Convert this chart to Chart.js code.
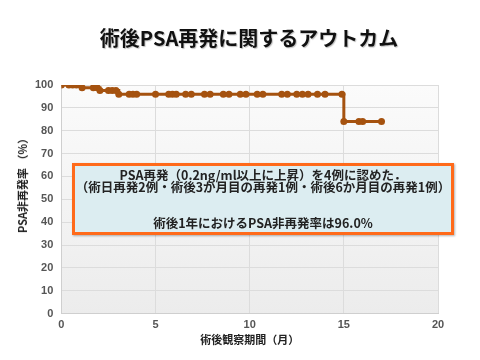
<!DOCTYPE html>
<html>
<head>
<meta charset="utf-8">
<script src="https://cdn.jsdelivr.net/npm/chart.js@4.4.1/dist/chart.umd.min.js"></script>
<style>
  body { margin: 0; background: #fff; }
  #wrap { position: relative; width: 480px; height: 360px; }
  #title {
    position: absolute; left: 9px; top: 23px; width: 480px; text-align: center;
    font-family: "Noto Sans CJK JP", sans-serif; font-weight: bold; font-size: 20px;
    color: #111; text-shadow: 1px 1px 1px rgba(0,0,0,0.25);
  }
  #ytitle {
    position: absolute; left: 22px; top: 183px; white-space: nowrap;
    transform: translate(-50%, -50%) rotate(-90deg);
    font-family: "Noto Sans CJK JP", sans-serif; font-weight: bold; font-size: 11px; color: #222;
  }
  #note {
    position: absolute; left: 72px; top: 163px; width: 376px; height: 66px;
    border: 3px solid #ff6a1a; background: #dcedf1;
    font-family: "Noto Sans CJK JP", sans-serif; font-weight: bold; font-size: 12.5px;
    color: #222; text-align: center;
    box-shadow: 1px 1px 2px rgba(0,0,0,0.3);
  }
  #note div { position: absolute; left: 0; width: 100%; line-height: 14px; white-space: nowrap; }
  canvas { position: absolute; left: 0; top: 0; }
</style>
</head>
<body>
<div id="wrap">
  <canvas id="chart" width="480" height="360"></canvas>
  <div id="title">術後PSA再発に関するアウトカム</div>
  <div id="ytitle">PSA非再発率 （%）</div>
  <div id="note">
    <div style="top:2px">PSA再発（0.2ng/ml以上に上昇）を4例に認めた．</div>
    <div style="top:14px">（術日再発2例・術後3か月目の再発1例・術後6か月目の再発1例）</div>
    <div style="top:50px">術後1年におけるPSA非再発率は96.0%</div>
  </div>
</div>
<script>
// DATA
const months = [0, 0.4, 0.6, 0.8, 1.0, 1.1, 1.7, 1.9, 2.05, 2.5, 2.7, 2.9, 3.05, 3.6, 3.8, 4.0,
  5.0, 5.7, 5.9, 6.1, 6.6, 6.9, 7.6, 7.9, 8.6, 8.9, 9.5, 9.8, 10.4, 10.7, 11.7, 12.0,
  12.5, 12.8, 13.1, 13.6, 14.0, 14.9, 15.0, 15.8, 16.0, 17.0];
const freeRate = [100, 100, 100, 100, 100, 98.8, 98.8, 98.8, 97.6, 97.6, 97.6, 97.6, 96.0, 96.0, 96.0, 96.0,
  96.0, 96.0, 96.0, 96.0, 96.0, 96.0, 96.0, 96.0, 96.0, 96.0, 96.0, 96.0, 96.0, 96.0, 96.0, 96.0,
  96.0, 96.0, 96.0, 96.0, 96.0, 96.0, 84.0, 84.0, 84.0, 84.0];
const xTicks = [0, 5, 10, 15, 20];
const yTicks = [0, 10, 20, 30, 40, 50, 60, 70, 80, 90, 100];

const points = months.map((m, i) => ({ x: m, y: freeRate[i] }));

// plot area background
const bgPlugin = {
  id: "bg",
  beforeDraw(chart) {
    const { ctx, chartArea: a } = chart;
    const g = ctx.createLinearGradient(0, a.top, 0, a.bottom);
    g.addColorStop(0, "#fbfbfb");
    g.addColorStop(1, "#ececec");
    ctx.save();
    ctx.fillStyle = g;
    ctx.fillRect(a.left, a.top, a.right - a.left, a.bottom - a.top);
    ctx.restore();
  }
};

const tickFont = { family: "Liberation Sans", size: 11, weight: "bold" };

new Chart(document.getElementById("chart"), {
  type: "line",
  data: {
    datasets: [{
      data: points,
      borderColor: "#a5520f",
      backgroundColor: "#a5520f",
      borderWidth: 3,
      pointRadius: 3.5,
      pointBorderWidth: 0,
      stepped: "before",
      fill: false
    }]
  },
  options: {
    responsive: false,
    animation: false,
    layout: { padding: { top: 85, right: 42, bottom: 14, left: 27 } },
    plugins: { legend: { display: false }, tooltip: { enabled: false } },
    scales: {
      x: {
        type: "linear", min: 0, max: 20,
        afterBuildTicks: s => { s.ticks = xTicks.map(v => ({ value: v })); },
        ticks: { color: "#555", font: tickFont, padding: 5 },
        grid: { color: "#dcdcdc", drawTicks: false },
        border: { color: "#cfcfcf" },
        title: { display: true, text: "術後観察期間（月）", color: "#222",
          font: { family: "Noto Sans CJK JP", size: 11, weight: "bold" }, padding: { top: -4, bottom: 0 } }
      },
      y: {
        min: 0, max: 100,
        afterBuildTicks: s => { s.ticks = yTicks.map(v => ({ value: v })); },
        ticks: { color: "#555", font: tickFont, padding: 8 },
        grid: { color: "#dcdcdc", drawTicks: false },
        border: { color: "#cfcfcf" }
      }
    }
  },
  plugins: [bgPlugin]
});
</script>
</body>
</html>
